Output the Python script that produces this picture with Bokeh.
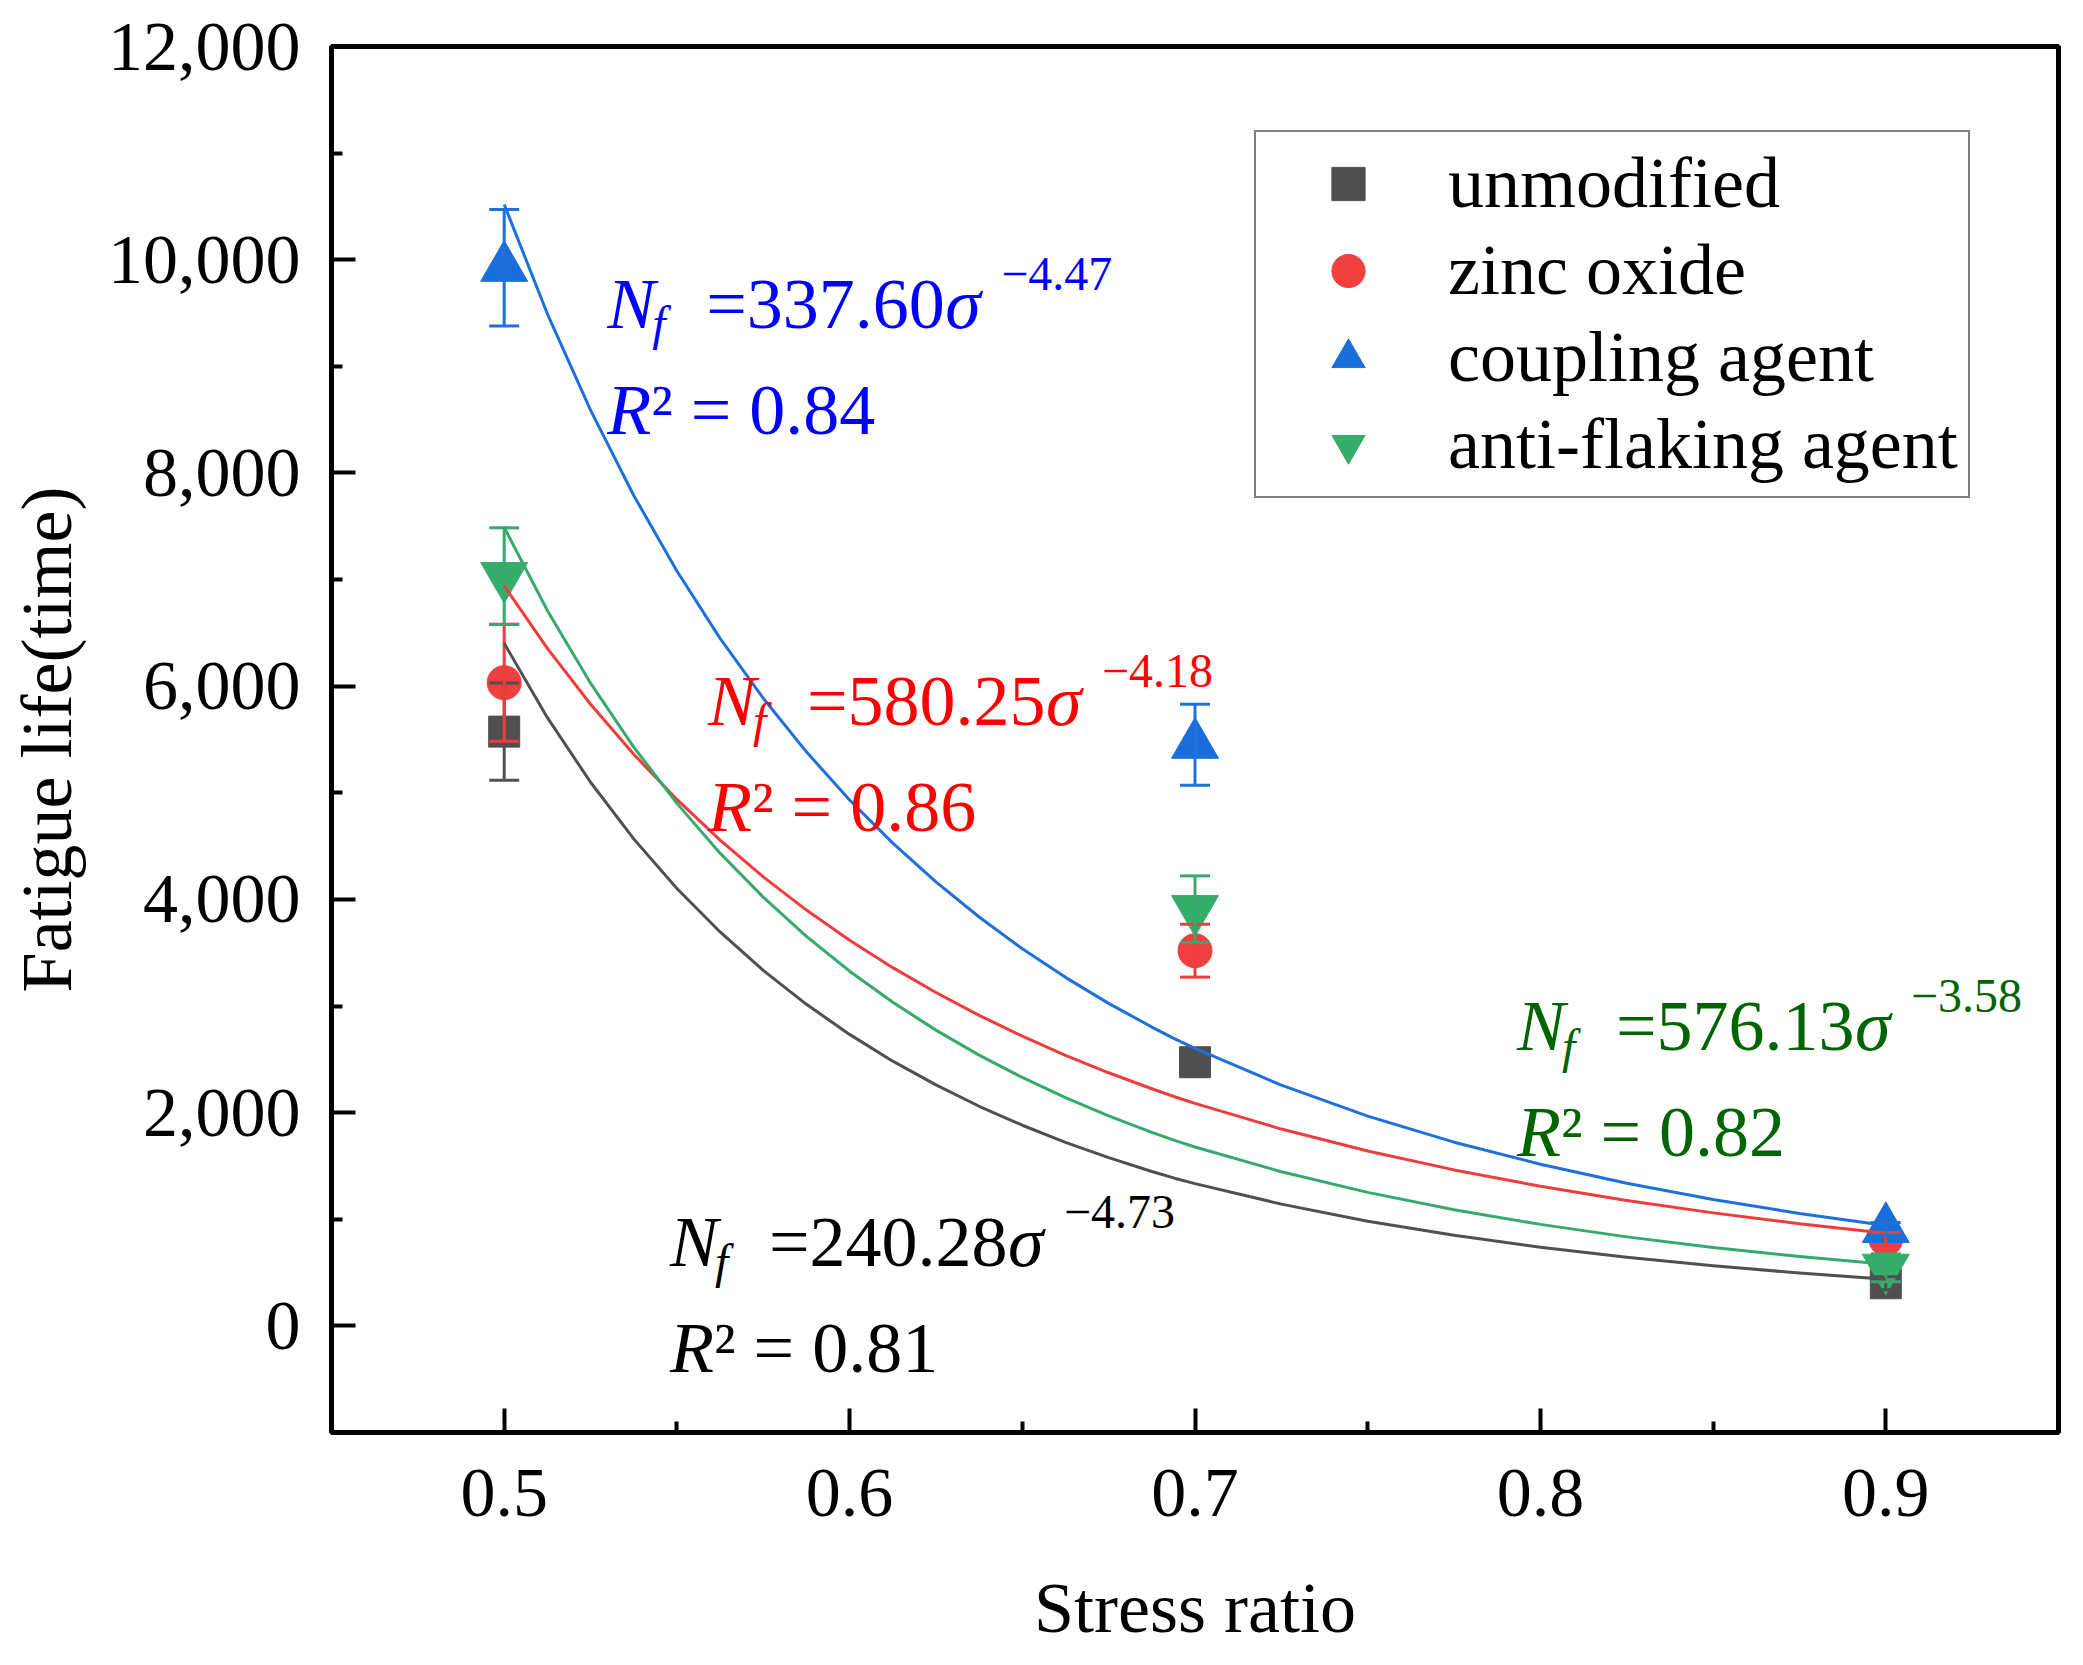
from bokeh.plotting import figure
from bokeh.models import Range1d, FixedTicker, NumeralTickFormatter, Legend, LegendItem
from bokeh.core.properties import value
from bokeh.embed import file_html
from bokeh.resources import INLINE

# ---------------- data ----------------
stress = [0.5, 0.7, 0.9]
series_names = ["unmodified", "zinc oxide", "coupling agent", "anti-flaking agent"]

life_unmodified = [5574, 2473, 400]
err_unmodified = [456, 60, 60]
life_zinc = [6033, 3519, 815]
err_zinc = [549, 248, 60]
life_coupling = [9925, 5451, 909]
err_coupling = [546, 380, 60]
life_antiflaking = [7032, 3909, 545]
err_antiflaking = [453, 312, 130]

fit_x = [0.5, 0.5125, 0.525, 0.5375, 0.55, 0.5625, 0.575, 0.5875, 0.6, 0.6125,
         0.625, 0.6375, 0.65, 0.6625, 0.675, 0.6875, 0.6943,
         0.7, 0.725, 0.75, 0.775, 0.8, 0.825, 0.85, 0.875, 0.9]
fit_unmodified = [6402, 5705, 5099, 4568, 4103, 3695, 3334, 3016, 2734, 2483,
                  2260, 2060, 1882, 1721, 1578, 1448, 1383,
                  1334, 1142, 982, 850, 738, 644, 564, 496, 438]
fit_zinc = [6942, 6355, 5831, 5361, 4938, 4556, 4212, 3900, 3618, 3360,
            3127, 2913, 2717, 2538, 2374, 2224, 2147,
            2087, 1846, 1640, 1463, 1309, 1176, 1060, 958, 868]
fit_coupling = [10518, 9493, 8589, 7789, 7080, 6449, 5887, 5384, 4933, 4528,
                4164, 3835, 3538, 3269, 3025, 2803, 2690,
                2602, 2258, 1968, 1723, 1516, 1338, 1186, 1054, 941]
fit_antiflaking = [7490, 6710, 6028, 5429, 4901, 4434, 4021, 3654, 3327, 3035,
                   2774, 2540, 2330, 2140, 1970, 1815, 1737,
                   1678, 1446, 1252, 1089, 952, 835, 736, 651, 577]

eq_coef = ["240.28", "580.25", "337.60", "576.13"]
eq_exp = ["\u22124.73", "\u22124.18", "\u22124.47", "\u22123.58"]
eq_r2 = ["0.81", "0.86", "0.84", "0.82"]
eq_x = [0.548, 0.559, 0.5298, 0.7932]
eq_y = [600, 5676, 9400, 2622]

x_major = [0.5, 0.6, 0.7, 0.8, 0.9]
x_minor = [0.55, 0.65, 0.75, 0.85]
y_major = [0, 2000, 4000, 6000, 8000, 10000, 12000]
y_minor = [1000, 3000, 5000, 7000, 9000, 11000]

# ---------------- styles ----------------
marker_colors = ["#4f4f4f", "#ef4040", "#1a6edb", "#35ad6b"]
line_colors = ["#505050", "#f03c3c", "#1e70dc", "#36aa6a"]
text_colors = ["#000000", "#ff0000", "#0000ff", "#006400"]
markers = ["square", "circle", "triangle", "inverted_triangle"]
marker_sizes = [31, 34, 47, 47]
FONT = "Liberation Serif"
TEXT_DY = -20

p = figure(width=2070, height=1650, x_range=Range1d(0.45, 0.95),
           y_range=Range1d(-1000, 12000), output_backend="svg",
           toolbar_location=None, min_border_left=331, min_border_top=46,
           min_border_right=12, min_border_bottom=213,
           background_fill_color="white", border_fill_color="white")
p.grid.visible = False
p.outline_line_color = "black"
p.outline_line_width = 5

p.xaxis.ticker = FixedTicker(ticks=x_major, minor_ticks=x_minor)
p.yaxis.ticker = FixedTicker(ticks=y_major, minor_ticks=y_minor)
p.yaxis.formatter = NumeralTickFormatter(format="0,0")
p.xaxis.axis_label = "Stress ratio"
p.yaxis.axis_label = "Fatigue life(time)"
for ax in (p.xaxis, p.yaxis):
    ax.axis_line_width = 5
    ax.axis_line_color = "black"
    ax.major_tick_in = 24
    ax.major_tick_out = 0
    ax.minor_tick_in = 11
    ax.minor_tick_out = 0
    ax.major_tick_line_width = 4
    ax.minor_tick_line_width = 4
    ax.major_tick_line_color = "black"
    ax.minor_tick_line_color = "black"
    ax.major_label_text_font = FONT
    ax.major_label_text_font_size = "70px"
    ax.major_label_text_color = "black"
    ax.axis_label_text_font = FONT
    ax.axis_label_text_font_size = "72px"
    ax.axis_label_text_font_style = "normal"
    ax.axis_label_text_color = "black"
p.xaxis.major_label_standoff = 37
p.xaxis.axis_label_standoff = 49
p.yaxis.major_label_standoff = 31
p.yaxis.axis_label_standoff = 18

lives = [life_unmodified, life_zinc, life_coupling, life_antiflaking]
errs = [err_unmodified, err_zinc, err_coupling, err_antiflaking]
fits = [fit_unmodified, fit_zinc, fit_coupling, fit_antiflaking]

# markers
marker_renderers = []
for i in range(4):
    r = p.scatter(stress, lives[i], marker=markers[i], size=marker_sizes[i],
                  fill_color=marker_colors[i], line_color=marker_colors[i], line_width=1)
    marker_renderers.append(r)

# error bars
for i in range(4):
    lo = [v - e for v, e in zip(lives[i], errs[i])]
    hi = [v + e for v, e in zip(lives[i], errs[i])]
    p.segment(x0=stress, y0=lo, x1=stress, y1=hi, line_color=line_colors[i], line_width=3)
    p.scatter(stress + stress, lo + hi, marker="dash", size=30,
              line_color=line_colors[i], line_width=3)

# fitted curves
for i in range(4):
    p.line(fit_x, fits[i], line_color=line_colors[i], line_width=3, line_join="round")

# equations
def piece(i, txt, dx, dy, size, style):
    p.text(x=[eq_x[i]], y=[eq_y[i]], text=[txt], x_offset=dx, y_offset=dy + TEXT_DY,
           text_font=value(FONT), text_font_size=value(size),
           text_font_style=value(style), text_color=text_colors[i],
           text_align="left", text_baseline="alphabetic")

for i in range(4):
    piece(i, "N", 0, 0, "72px", "italic")
    piece(i, "f", 45, 20, "48px", "italic")
    piece(i, "=" + eq_coef[i], 99, 0, "72px", "normal")
    piece(i, "\u03c3", 338, 0, "72px", "italic")
    piece(i, eq_exp[i], 394, -30, "48px", "normal")
    piece(i, "R", 0, 106, "72px", "italic")
    piece(i, "\u00b2 = " + eq_r2[i], 44, 106, "72px", "normal")

legend = Legend(items=[LegendItem(label=series_names[i], renderers=[marker_renderers[i]])
                       for i in range(4)],
                location=(923, 934), orientation="vertical",
                border_line_color="black", border_line_width=2.5,
                background_fill_color="white", background_fill_alpha=1,
                padding=10, spacing=4, margin=0,
                glyph_width=164, glyph_height=83, label_standoff=18,
                label_text_font=FONT, label_text_font_size="72px",
                label_text_color="black")
p.add_layout(legend, "center")

open("out.html", "w").write(file_html(p, INLINE))
